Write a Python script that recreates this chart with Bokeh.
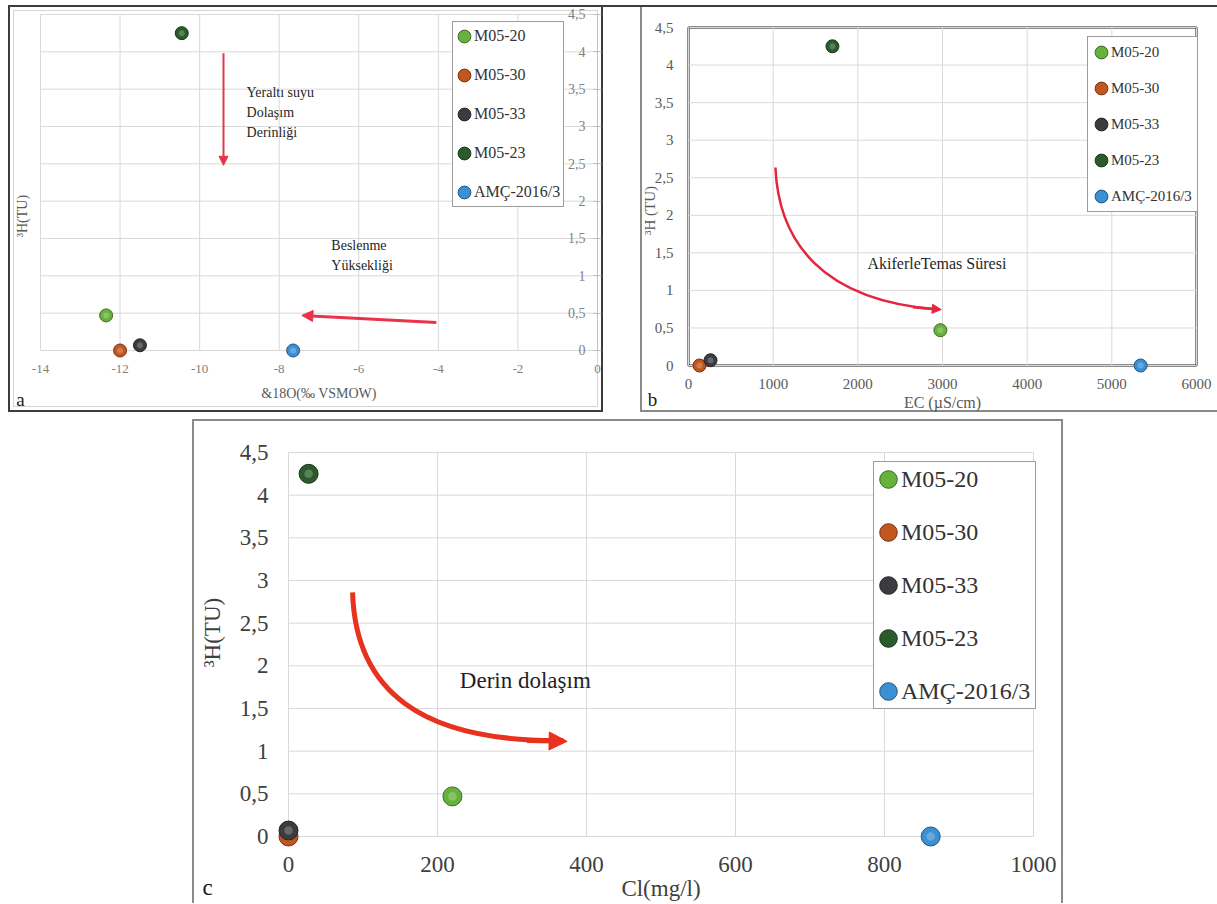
import math
from bokeh.plotting import figure
from bokeh.models import (ColumnDataSource, FixedTicker, Legend, LegendItem, Label,
                          Arrow, NormalHead, BoxAnnotation, Spacer, Range1d)
from bokeh.layouts import column, row
from bokeh.embed import file_html
from bokeh.resources import INLINE

# ---------------- data ----------------
samples = ["M05-20", "M05-30", "M05-33", "M05-23", "AMÇ-2016/3"]
sample_colors = ["#66b23c", "#c2561f", "#3c3c40", "#2b5b2c", "#3b8fd3"]
tritium_tu = [0.47, 0.0, 0.07, 4.25, 0.0]
delta18o = [-12.35, -12.0, -11.5, -10.45, -7.65]
ec_us_cm = [2975, 130, 260, 1700, 5340]
cl_mg_l = [220, 0, 0, 27, 862]

x_ticks_a = [-14, -12, -10, -8, -6, -4, -2, 0]
x_tick_labels_a = ["-14", "-12", "-10", "-8", "-6", "-4", "-2", "0"]
x_ticks_b = [0, 1000, 2000, 3000, 4000, 5000, 6000]
x_ticks_c = [0, 200, 400, 600, 800, 1000]
y_ticks = [0, 0.5, 1, 1.5, 2, 2.5, 3, 3.5, 4, 4.5]
y_tick_labels = ["0", "0,5", "1", "1,5", "2", "2,5", "3", "3,5", "4", "4,5"]

SERIF = "Liberation Serif"
GRID = "#d9d9d9"
y_overrides = {t: lab for t, lab in zip(y_ticks, y_tick_labels)}
x_overrides_a = {t: lab for t, lab in zip(x_ticks_a, x_tick_labels_a)}


def shade(hex_color, f):
    h = hex_color.lstrip("#")
    rgb = [int(h[i:i + 2], 16) for i in (0, 2, 4)]
    if f >= 0:
        rgb = [int(c + (255 - c) * f) for c in rgb]
    else:
        rgb = [int(c * (1 + f)) for c in rgb]
    return "#{:02x}{:02x}{:02x}".format(*rgb)


def new_fig(w, h, xr, yr, shadow):
    p = figure(width=w, height=h, x_range=Range1d(*xr), y_range=Range1d(*yr),
               output_backend="svg", toolbar_location=None,
               min_border_left=0, min_border_right=0, min_border_top=0, min_border_bottom=0)
    p.border_fill_color = None
    p.background_fill_color = None
    p.outline_line_color = None
    p.styles = {"background-color": "white", "box-shadow": shadow}
    p.grid.visible = False
    for ax in p.axis:
        ax.fixed_location = 0
        ax.minor_tick_line_color = None
        ax.axis_line_color = None
        ax.major_tick_line_color = None
        ax.major_tick_in = 0
        ax.major_tick_out = 0
        ax.axis_label_text_font_style = "normal"
        ax.major_label_text_font = SERIF
        ax.axis_label_text_font = SERIF
    return p


def grid_lines(p, xticks, yticks):
    n_y, n_x = len(yticks), len(xticks)
    p.segment(x0=[xticks[0]] * n_y, x1=[xticks[-1]] * n_y, y0=yticks, y1=yticks,
              line_color=GRID, line_width=1)
    p.segment(x0=xticks, x1=xticks, y0=[yticks[0]] * n_x, y1=[yticks[-1]] * n_x,
              line_color=GRID, line_width=1)


def style_axis(ax, ticks, font_px, color, standoff, overrides=None):
    ax.ticker = FixedTicker(ticks=ticks)
    ax.bounds = (ticks[0], ticks[-1])
    if overrides:
        ax.major_label_overrides = overrides
    ax.major_label_standoff = standoff
    ax.major_label_text_font_size = f"{font_px}px"
    ax.major_label_text_color = color


def axis_title(ax, text, font_px, color, standoff):
    ax.axis_label = text
    ax.axis_label_text_font_size = f"{font_px}px"
    ax.axis_label_text_color = color
    ax.axis_label_standoff = standoff


def add_points(p, xs, size):
    rends = []
    for name, col, xv, yv in zip(samples, sample_colors, xs, tritium_tu):
        src = ColumnDataSource(dict(x=[xv], y=[yv]))
        r = p.ellipse("x", "y", source=src, width=size, height=size,
                      width_units="screen", height_units="screen", fill_color=col,
                      line_color=shade(col, -0.4), line_width=1)
        p.scatter("x", "y", source=src, size=size * 0.45, fill_color=shade(col, 0.5),
                  line_color=None, fill_alpha=0.45)
        rends.append(r)
    return rends


def add_legend(p, rends, font_px, gw, lh, spacing, padding, location, label_width):
    lg = Legend(items=[LegendItem(label=s, renderers=[r]) for s, r in zip(samples, rends)],
                location=location, margin=0, padding=padding, spacing=spacing,
                glyph_width=gw, glyph_height=gw, label_height=lh, label_width=label_width,
                label_standoff=2, label_text_font=SERIF, label_text_font_size=f"{font_px}px",
                label_text_color="#333333", border_line_color="#3a3a3a", border_line_width=1,
                background_fill_color="white", background_fill_alpha=1)
    p.add_layout(lg, "center")


def note(p, x, y, text, px, color="#1f1f1f", align="left", angle=0.0):
    p.add_layout(Label(x=x, y=y, text=text, text_font=SERIF, text_font_size=f"{px}px",
                       text_color=color, text_align=align, text_baseline="middle", angle=angle))


# ---------------- panel a ----------------
RED_A = "#e8334a"
pa = new_fig(595, 407, (-14.804, 0.151), (-0.8304, 4.6205),
             "inset 0 0 0 2px #3c3c3c, inset 0 0 0 5px #ffffff, inset 0 0 0 6px #d4d4d4")
grid_lines(pa, x_ticks_a, y_ticks)
xa = pa.xaxis[0]
style_axis(xa, x_ticks_a, 13, "#7f7f7f", 15, x_overrides_a)
axis_title(xa, "&18O(‰ VSMOW)", 14, "#595959", 9)
ya = pa.yaxis[0]
style_axis(ya, y_ticks, 14, "#7f7f7f", 8, y_overrides)
ya.axis_line_color = "#bfbfbf"
ya.major_tick_line_color = "#bfbfbf"
ya.major_tick_in = 4
ya.major_tick_out = 4

ra = add_points(pa, delta18o, 13)
add_legend(pa, ra, 16, 16, 22, 17, 3, (444, 205), 20)

pa.add_layout(Arrow(end=NormalHead(size=9, fill_color=RED_A, line_color=RED_A),
                    x_start=-9.4, y_start=3.98, x_end=-9.4, y_end=2.48,
                    line_color=RED_A, line_width=2))
note(pa, -8.82, 3.455, "Yeraltı suyu", 14)
note(pa, -8.82, 3.19, "Dolaşım", 14)
note(pa, -8.82, 2.92, "Derinliği", 14)
pa.add_layout(Arrow(end=NormalHead(size=11, fill_color=RED_A, line_color=RED_A),
                    x_start=-4.05, y_start=0.375, x_end=-7.43, y_end=0.47,
                    line_color=RED_A, line_width=3))
note(pa, -6.69, 1.406, "Beslenme", 14)
note(pa, -6.69, 1.138, "Yüksekliği", 14)
note(pa, -14.45, 1.8, "³H(TU)", 14, color="#595959", align="center", angle=math.pi / 2)
note(pa, -14.503, -0.656, "a", 19, color="#1a1a1a", align="center")

# ---------------- panel b ----------------
RED_B = "#e8243c"
pb = new_fig(577, 407, (-566.9, 6248.0), (-0.6257, 4.793),
             "inset 0 2px 0 0 #3c3c3c, inset 2px 0 0 0 #8a8a8a, inset 0 -2px 0 0 #8a8a8a")
grid_lines(pb, x_ticks_b, y_ticks)
xb = pb.xaxis[0]
style_axis(xb, x_ticks_b, 15, "#595959", 13)
axis_title(xb, "EC (µS/cm)", 16, "#595959", 2)
yb = pb.yaxis[0]
style_axis(yb, y_ticks, 15, "#595959", 15, y_overrides)
pb.add_layout(BoxAnnotation(left=x_ticks_b[0], right=x_ticks_b[-1], bottom=y_ticks[0], top=y_ticks[-1],
                            fill_color=None, line_color="#1a1a1a", line_alpha=1.0, line_width=2,
                            level="underlay"))
rb = add_points(pb, ec_us_cm, 13)
add_legend(pb, rb, 15, 16, 20, 16, 5, (447, 200), 20)
pb.bezier(x0=[1027], y0=[2.636], x1=[2953], y1=[0.746], cx0=[1063], cy0=[1.664],
          cx1=[1559], cy1=[0.865], line_color=RED_B, line_width=2.5)
pb.add_layout(Arrow(end=NormalHead(size=9, fill_color=RED_B, line_color=RED_B),
                    x_start=2650, y_start=0.775, x_end=2985, y_end=0.745,
                    line_color=RED_B, line_width=2.5))
note(pb, 2114, 1.358, "AkiferleTemas Süresi", 16)
note(pb, -449, 2.064, "³H (TU)", 15, color="#595959", align="center", angle=math.pi / 2)
note(pb, -425, -0.453, "b", 19, color="#1a1a1a", align="center")

# ---------------- panel c ----------------
RED_C = "#e8321e"
pc = new_fig(871, 484, (-128.86, 1040.27), (-0.7852, 4.8867),
             "inset 0 2px 0 0 #8a8a8a, inset 2px 0 0 0 #8a8a8a, inset -2px 0 0 0 #8a8a8a")
grid_lines(pc, x_ticks_c, y_ticks)
xc = pc.xaxis[0]
style_axis(xc, x_ticks_c, 23, "#404040", 21)
axis_title(xc, "Cl(mg/l)", 23, "#404040", 0)
yc = pc.yaxis[0]
style_axis(yc, y_ticks, 23, "#404040", 20, y_overrides)
rc = add_points(pc, cl_mg_l, 19)
add_legend(pc, rc, 24, 22, 28, 25, 3, (681, 194), 131)
pc.bezier(x0=[86], y0=[2.86], x1=[369], y1=[1.125], cx0=[90], cy0=[1.711],
          cx1=[177], cy1=[1.102], line_color=RED_C, line_width=5)
pc.add_layout(Arrow(end=NormalHead(size=18, fill_color=RED_C, line_color=RED_C),
                    x_start=320, y_start=1.125, x_end=374, y_end=1.115,
                    line_color=RED_C, line_width=5))
note(pc, 230, 1.83, "Derin dolaşım", 23)
note(pc, -102, 2.39, "³H(TU)", 23, color="#404040", align="center", angle=math.pi / 2)
note(pc, -108.7, -0.598, "c", 23, color="#1a1a1a", align="center")

layout = column(
    Spacer(width=10, height=5),
    row(Spacer(width=8, height=407), pa,
        Spacer(width=37, height=407, styles={"box-shadow": "inset 0 2px 0 0 #3c3c3c"}), pb),
    Spacer(width=10, height=7),
    row(Spacer(width=192, height=10), pc),
)

open("out.html", "w").write(file_html(layout, INLINE))
